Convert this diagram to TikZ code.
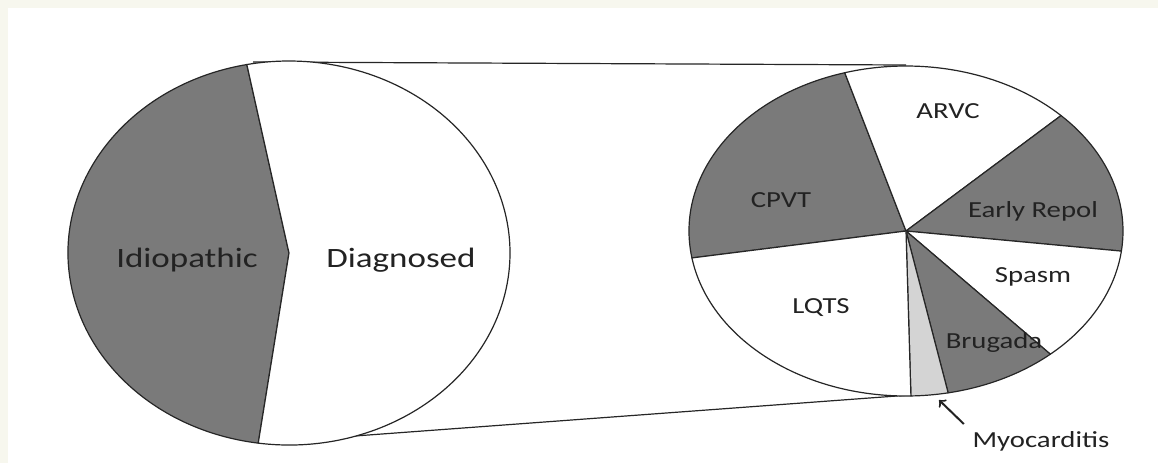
\documentclass[tikz,border=0pt]{standalone}
\usepackage{fontspec}
\setmainfont{Carlito}
\definecolor{darkslice}{HTML}{7A7A7A}
\definecolor{lightslice}{HTML}{D4D4D4}
\definecolor{paper}{HTML}{F7F7EE}
\definecolor{ink}{HTML}{222222}
\begin{document}
\begin{tikzpicture}[x=0.5pt,y=0.5pt]
	\tikzstyle{slice} = [draw=black!85, line width=0.6pt, line join=round];
	\tikzstyle{dark} = [slice, fill=darkslice];
	\tikzstyle{bright} = [slice, fill=white];
	\tikzstyle{light} = [slice, fill=lightslice];
	\tikzstyle{biglabel} = [anchor=base, text=ink, font=\fontsize{14pt}{16pt}\selectfont, xscale=1.25];
	\tikzstyle{label} = [anchor=base, text=ink, font=\fontsize{11.5pt}{13pt}\selectfont, xscale=1.25];
	\useasboundingbox (0,0) rectangle (1158,463);
	\fill[paper] (0,0) rectangle (1158,463);
	\fill[fill=white] (8,0) rectangle (1158,455);
	
	% zoom lines
	\coordinate (ltop) at (253,401);
	\coordinate (rtop) at (906,398);
	\coordinate (lbot) at (260,20);
	\coordinate (rbot) at (910,68);
	\draw[line width=0.6pt, black!85] (ltop) -- (rtop);
	\draw[line width=0.6pt, black!85] (lbot) -- (rbot);
	
	% left pie
	\coordinate (lc) at (289,210);
	\filldraw[dark] (lc) -- ++(101:221 and 192) arc[start angle=101, end angle=262, x radius=221, y radius=192] -- cycle;
	\filldraw[bright] (lc) -- ++(262:221 and 192) arc[start angle=262, end angle=461, x radius=221, y radius=192] -- cycle;
	\draw node [biglabel] (idio) at (187,196) {Idiopathic};
	\draw node [biglabel] (diag) at (401,196) {Diagnosed};
	
	% right pie
	\coordinate (rc) at (906,232);
	\filldraw[dark] (rc) -- ++(106.4:217 and 165) arc[start angle=106.4, end angle=189.4, x radius=217, y radius=165] -- cycle;
	\filldraw[bright] (rc) -- ++(44.4:217 and 165) arc[start angle=44.4, end angle=106.4, x radius=217, y radius=165] -- cycle;
	\filldraw[dark] (rc) -- ++(-7:217 and 165) arc[start angle=-7, end angle=44.4, x radius=217, y radius=165] -- cycle;
	\filldraw[bright] (rc) -- ++(-48.3:217 and 165) arc[start angle=-48.3, end angle=-7, x radius=217, y radius=165] -- cycle;
	\filldraw[dark] (rc) -- ++(-78.8:217 and 165) arc[start angle=-78.8, end angle=-48.3, x radius=217, y radius=165] -- cycle;
	\filldraw[light] (rc) -- ++(-88.7:217 and 165) arc[start angle=-88.7, end angle=-78.8, x radius=217, y radius=165] -- cycle;
	\filldraw[bright] (rc) -- ++(189.4:217 and 165) arc[start angle=189.4, end angle=271.3, x radius=217, y radius=165] -- cycle;
	\draw node [label] (cpvt) at (781,256) {CPVT};
	\draw node [label] (arvc) at (948,345) {ARVC};
	\draw node [label] (early) at (1033,246) {Early Repol};
	\draw node [label] (spasm) at (1033,181) {Spasm};
	\draw node [label] (lqts) at (821,150) {LQTS};
	\draw node [label] (brug) at (994,115) {Brugada};
	\draw node [label] (myo) at (1041,16) {Myocarditis};
	
	\coordinate (myotip) at (939,63);
	\draw [ink, line width=1pt, ->] (myo.north west) -- (myotip);
	
\end{tikzpicture}
\end{document}
